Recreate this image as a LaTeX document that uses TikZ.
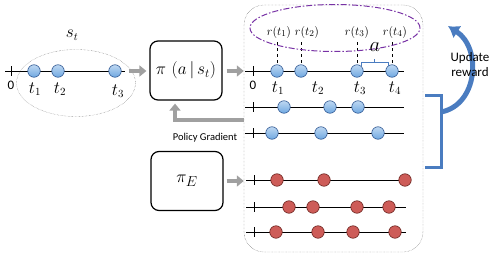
\documentclass[tikz,border=0pt]{standalone}
\usepackage{fontspec}
\usepackage{amsmath}
\usetikzlibrary{arrows.meta,positioning,shapes.geometric,calc}
\newfontfamily\labelfont{Carlito}
\definecolor{c1}{RGB}{111,168,225}
\definecolor{c1d}{RGB}{45,85,145}
\definecolor{c2}{RGB}{205,92,88}
\definecolor{c2d}{RGB}{105,35,30}
\definecolor{c3}{RGB}{74,124,192}
\definecolor{c4}{RGB}{120,50,165}
\definecolor{c5}{RGB}{160,160,160}
\tikzset{
  bdot/.style={circle,draw=c1d,top color=c1!45!white,bottom color=c1,
               minimum size=12.5pt,inner sep=0pt,line width=0.6pt},
  rdot/.style={circle,draw=c2d,fill=c2,minimum size=12.5pt,inner sep=0pt,line width=0.6pt},
  policy/.style={draw,line width=1.2pt,rounded corners=8pt,
                 minimum width=72pt,minimum height=59pt},
  flow/.style={c5,line width=4pt,-{Triangle[length=7pt,width=11pt]}},
  tl/.style={line width=0.9pt},
  tlab/.style={font=\fontsize{16}{18}\selectfont,inner sep=0pt},
  rlab/.style={font=\fontsize{13}{15}\selectfont,inner sep=0pt},
  num/.style={font=\labelfont\fontsize{13}{15}\selectfont,inner sep=0pt},
}

\begin{document}
\begin{tikzpicture}[x=1pt,y=-1pt]
  \useasboundingbox (0,0) rectangle (498,257);

  % state s_t
  \coordinate (s-a) at (5,71);
  \coordinate (s-b) at (125,71);
  \draw[tl] (s-a) -- (s-b);
  \draw[tl] ($(s-a)+(6,-5)$) -- ++(0,10);
  \node[num] (s-zero) at (11,85) {0};
  \node[bdot] (st1) at (34,71) {};
  \node[bdot] (st2) at (58,71) {};
  \node[bdot] (st3) at (115,71) {};
  \node[tlab] at (35,89) {$t_1$};
  \node[tlab] at (60,89) {$t_2$};
  \node[tlab] at (118,91) {$t_3$};
  \node[ellipse,draw=black!60,densely dotted,
        minimum width=119pt,minimum height=67pt] (state) at (76,83) {};
  \node[tlab] (state-lab) at (72,35) {$s_t$};

  % policies
  \node[policy] (pol) at (186,70.5)
    {\fontsize{18}{20}\selectfont$\pi\ (a\,|\,s_t)$};
  \node[policy] (expert) at (187,181)
    {\fontsize{19}{22}\selectfont$\pi_E$};

  % trajectories
  \node[draw=black!70,densely dotted,rounded corners=20pt,
        minimum width=179pt,minimum height=247pt] (traj) at (333.5,128.5) {};

  \draw[flow,shorten >=3pt] ($(st3.east)+(7,0)$) -- (pol.west |- st3);
  \draw[flow] (pol.east |- st3) ++(4,0) -- (traj.west |- st3);
  \draw[flow] ($(expert.east)+(3,0)$) -- (traj.west |- expert);
  \coordinate (pg) at (traj.west |- 0,120);
  \draw[flow,shorten >=3pt] (pg) -| ($(pol.south)+(-11,0)$);
  \node[font=\labelfont\fontsize{10.5}{12}\selectfont] (pg-lab) at (205,138) {Policy Gradient};

  % sampled trajectory with rewards
  \coordinate (r-a) at (245,71);
  \coordinate (r-b) at (404,71);
  \draw[tl] (r-a) -- (r-b);
  \draw[tl] ($(r-a)+(8,-5)$) -- ++(0,10);
  \node[num] (r-zero) at (253,85) {0};
  \node[bdot] (d1) at (277,71) {};
  \node[bdot] (d2) at (301,71) {};
  \node[bdot] (d3) at (357,71) {};
  \node[bdot] (d4) at (392,71) {};
  \node[tlab] at (278,88) {$t_1$};
  \node[tlab] at (318,88) {$t_2$};
  \node[tlab] at (360,88) {$t_3$};
  \node[tlab] at (395,88) {$t_4$};
  \node[rlab] (r1) at (279,32) {$r(t_1)$};
  \node[rlab] (r2) at (307,32) {$r(t_2)$};
  \node[rlab] (r3) at (357,32) {$r(t_3)$};
  \node[rlab] (r4) at (395,32) {$r(t_4)$};
  \foreach \k in {1,...,4}
    \draw[dashed,line width=0.8pt] (d\k |- r\k.south) ++(0,4) -- (d\k.north);
  \node[ellipse,draw=c4,line width=1pt,dash pattern=on 6pt off 2pt on 1.5pt off 2pt,
        minimum width=170pt,minimum height=47pt] (rew) at (335,28) {};
  \draw[c3,line width=0.8pt] ($(d3)+(4,-5)$) -- ++(0,-4) -- ($(d4)+(-4,-9)$) -- ++(0,4);
  \draw[c3,line width=0.8pt] ($(d3)!0.5!(d4)+(0,-9)$) -- ++(0,-3);
  \node[font=\fontsize{20}{22}\selectfont,inner sep=0pt] (act) at (375,47) {$a$};

  % policy samples
  \foreach \y/\xs [count=\i] in {107/{284,330,358},133/{272,321,378}}{
    \coordinate (p\i-a) at (245,\y);
    \coordinate (p\i-b) at (404,\y);
    \draw[tl] (p\i-a) -- (p\i-b);
    \draw[tl] ($(p\i-a)+(8,-5)$) -- ++(0,10);
    \foreach \x [count=\j] in \xs
      \node[bdot] (p\i-\j) at (\x,\y) {};
  }

  % expert samples
  \foreach \y/\xs [count=\i] in {180/{277,324,405},207/{289,313,357,389},232/{276,318,353,395}}{
    \coordinate (e\i-a) at (246,\y);
    \coordinate (e\i-b) at (406,\y);
    \draw[tl] (e\i-a) -- (e\i-b);
    \draw[tl] ($(e\i-a)+(8,-5)$) -- ++(0,10);
    \foreach \x [count=\j] in \xs
      \node[rdot] (e\i-\j) at (\x,\y) {};
  }

  % reward update
  \coordinate (br-t) at (425,95);
  \coordinate (br-b) at (425,167);
  \coordinate (br-m) at (441,112);
  \coordinate (upd) at (448,26);
  \draw[c3,line width=5pt,-{Latex[length=11pt,width=15pt]}]
    (br-m) .. controls (478,105) and (482,48) .. (upd);
  \draw[c3,line width=3pt] (br-t) -- ++(16,0) |- (br-b);
  \node[font=\labelfont\fontsize{13}{15}\selectfont,align=center] (upd-lab) at (470,65)
    {Update\\reward};
\end{tikzpicture}
\end{document}
